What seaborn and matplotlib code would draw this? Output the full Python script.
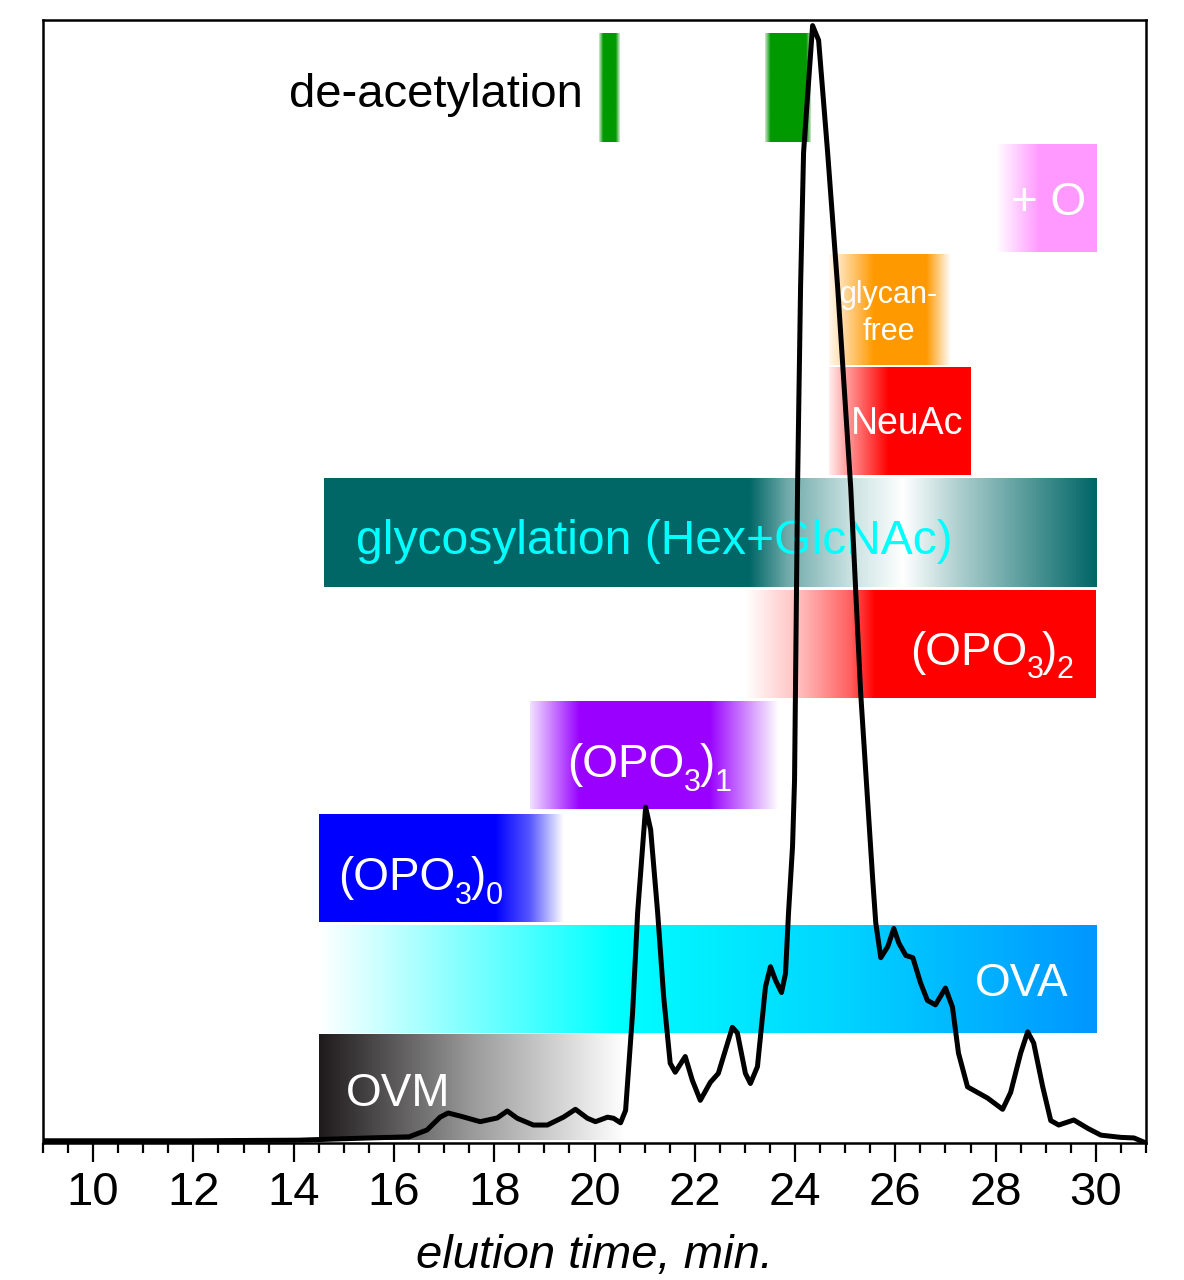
import numpy as np
import pandas as pd
import matplotlib
matplotlib.use("Agg")
import matplotlib.pyplot as plt
import matplotlib.colors as mcolors
from matplotlib.transforms import offset_copy
import seaborn as sns

# ---------------- data ----------------
time_min = [9.0, 12.0, 14.1, 14.8, 15.5, 16.3, 16.66, 16.92, 17.08, 17.32, 17.72, 18.06, 18.26,
            18.46, 18.78, 19.06, 19.38, 19.62, 19.86, 20.02, 20.26, 20.38, 20.52, 20.62, 20.76,
            20.86, 20.96, 21.02, 21.12, 21.26, 21.38, 21.51, 21.61, 21.81, 21.95, 22.11, 22.31,
            22.47, 22.75, 22.85, 23.01, 23.11, 23.25, 23.41, 23.51, 23.61, 23.73, 23.81, 23.87,
            23.95, 23.99, 24.05, 24.11, 24.17, 24.35, 24.47, 24.65, 24.85, 25.11, 25.31, 25.55,
            25.61, 25.71, 25.85, 25.97, 26.07, 26.21, 26.35, 26.50, 26.64, 26.80, 27.00, 27.14,
            27.26, 27.44, 27.64, 27.84, 28.14, 28.30, 28.50, 28.64, 28.76, 28.94, 29.10, 29.26,
            29.56, 29.84, 30.10, 30.50, 30.76, 31.0]
intensity = [0.2, 0.2, 0.25, 0.35, 0.45, 0.55, 1.16, 2.3, 2.67, 2.4, 1.9, 2.23, 2.85,
             2.2, 1.6, 1.6, 2.3, 3.0, 2.2, 1.9, 2.3, 2.2, 1.8, 2.9, 11.6,
             20.5, 26.4, 29.9, 27.9, 20.5, 13.0, 7.1, 6.3, 7.7, 5.6, 3.8, 5.4,
             6.2, 10.3, 9.8, 6.2, 5.3, 6.8, 13.9, 15.7, 14.5, 13.4, 15.1, 20.5,
             26.4, 32.3, 58.4, 76.2, 88.2, 99.5, 98.2, 88.2, 76.2, 58.4, 40.0, 23.4,
             19.6, 16.5, 17.5, 19.1, 17.8, 16.7, 16.5, 14.3, 12.7, 12.3, 13.8, 12.1,
             8.0, 5.0, 4.5, 4.0, 3.0, 4.5, 8.0, 9.9, 8.9, 5.0, 2.0, 1.6,
             2.05, 1.3, 0.7, 0.5, 0.45, 0.0]

# bands: start, end, bottom, top
band_names = ["de-acetylation a", "de-acetylation b", "+ O", "glycan-free", "NeuAc",
              "glycosylation", "(OPO3)2", "(OPO3)1", "(OPO3)0", "OVA", "OVM"]
band_start = [20.08, 23.40, 28.0, 24.67, 24.67, 14.6, 23.0, 18.72, 14.5, 14.5, 14.5]
band_end = [20.48, 24.30, 30.0, 27.1, 27.5, 30.0, 30.0, 23.67, 19.38, 30.0, 20.6]
band_bottom = [89.1, 89.1, 79.3, 69.3, 59.5, 49.5, 39.6, 29.7, 19.7, 9.8, 0.3]
band_top = [98.8, 98.8, 88.9, 79.1, 69.1, 59.2, 49.2, 39.3, 29.3, 19.4, 9.7]
band_stops = [
    [(0, "#d8ecd8"), (0.2, "#009900"), (0.8, "#009900"), (1, "#d8ecd8")],
    [(0, "#d0e8d0"), (0.12, "#009900"), (0.9, "#009900"), (1, "#cfe8cf")],
    [(0, "#ffffff"), (0.43, "#ff99ff"), (1, "#ff99ff")],
    [(0, "#fff8ee"), (0.37, "#ff9900"), (0.8, "#ff9900"), (1, "#ffffff")],
    [(0, "#ffeeee"), (0.12, "#ffa0a0"), (0.42, "#ff0000"), (1, "#ff0000")],
    [(0, "#006666"), (0.55, "#006666"), (0.6, "#70aaaa"), (0.68, "#c8e0e0"), (0.75, "#ffffff"),
     (0.82, "#b0d0d0"), (0.9, "#60a0a0"), (1, "#006666")],
    [(0, "#ffffff"), (0.15, "#ffc0c0"), (0.3, "#ff6060"), (0.37, "#ff0000"), (1, "#ff0000")],
    [(0, "#f0e0ff"), (0.2, "#9900ff"), (0.72, "#9900ff"), (1, "#ffffff")],
    [(0, "#0000ff"), (0.72, "#0000ff"), (0.86, "#5555ff"), (1, "#ffffff")],
    [(0, "#ffffff"), (0.38, "#00ffff"), (0.65, "#00d8ff"), (1, "#0096ff")],
    [(0, "#1e1a1b"), (0.5, "#9a9a9a"), (1, "#ffffff")],
]

x_ticks = [10, 12, 14, 16, 18, 20, 22, 24, 26, 28, 30]
x_label = "elution time, min."

# ---------------- style ----------------
sns.set_style("ticks")
plt.rcParams["font.family"] = ["Liberation Sans", "DejaVu Sans"]

fig = plt.figure(figsize=(11.84, 12.8), dpi=100)
ax = fig.add_axes([43 / 1184, 1 - 1143 / 1280, (1146 - 43) / 1184, (1143 - 20) / 1280])

for s, e, b, t, stops in zip(band_start, band_end, band_bottom, band_top, band_stops):
    fr = np.linspace(0, 1, 400)
    pos = [p for p, _ in stops]
    cols = np.array([mcolors.to_rgb(c) for _, c in stops])
    img = np.stack([np.interp(fr, pos, cols[:, k]) for k in range(3)], axis=-1)
    ax.imshow(img[np.newaxis, :, :], extent=[s, e, b, t], aspect="auto",
              interpolation="bilinear", zorder=1)

ax.set_xlim(9, 31)
ax.set_ylim(0, 100)

# plain labels
ax.text(19.76, 93.3, "de-acetylation", ha="right", va="center", fontsize=34, color="black", zorder=3)
ax.text(29.8, 83.7, "+ O", ha="right", va="center", fontsize=33, color="white", zorder=3)
ax.text(25.88, 73.9, "glycan-\nfree", ha="center", va="center", fontsize=22, color="white",
        linespacing=1.3, zorder=3)
ax.text(26.23, 64.0, "NeuAc", ha="center", va="center", fontsize=27, color="white", zorder=3)
ax.text(15.25, 53.6, "glycosylation (Hex+GlcNAc)", ha="left", va="center", fontsize=34.6,
        color="#00ffff", zorder=3)
ax.text(29.46, 14.2, "OVA", ha="right", va="center", fontsize=33, color="white", zorder=3)
ax.text(15.05, 4.4, "OVM", ha="left", va="center", fontsize=33, color="white", zorder=3)

# chemical labels with subscripts, composed piece by piece
renderer = fig.canvas.get_renderer()


def chem(x, y, sub, align):
    pieces = [("(OPO", 33, 0.0, 0.0), ("3", 22, -10.0, -0.3), (")", 33, 0.0, -1.2), (sub, 22, -10.0, -0.2)]
    widths = []
    for txt, size, _, _ in pieces:
        tmp = ax.text(0, 0, txt, fontsize=size)
        widths.append(tmp.get_window_extent(renderer).width * 72 / fig.dpi)
        tmp.remove()
    total = sum(widths) + sum(p[3] for p in pieces)
    dx = -total if align == "right" else 0.0
    for (txt, size, dy, kern), w in zip(pieces, widths):
        dx += kern
        tr = offset_copy(ax.transData, fig=fig, x=dx, y=dy, units="points")
        ax.text(x, y, txt, fontsize=size, color="white", ha="left", va="baseline",
                transform=tr, zorder=3)
        dx += w


chem(29.56, 42.6, "2", "right")
chem(19.46, 32.6, "1", "left")
chem(14.89, 22.5, "0", "left")

# chromatogram
df = pd.DataFrame({"t": time_min, "I": intensity})
sns.lineplot(data=df, x="t", y="I", color="black", linewidth=3.6, ax=ax, zorder=5,
             estimator=None, sort=False)

ax.set_xlim(9, 31)
ax.set_ylim(0, 100)
ax.set_xticks(x_ticks)
ax.set_xticks(np.arange(9, 31.01, 0.5), minor=True)
ax.set_yticks([])
ax.tick_params(axis="x", which="major", direction="out", length=14, width=1.6,
               labelsize=34, pad=6, color="black", labelcolor="black")
ax.tick_params(axis="x", which="minor", direction="out", length=7, width=1.6, color="black")
for sp in ax.spines.values():
    sp.set_visible(True)
    sp.set_linewidth(1.8)
    sp.set_color("black")
ax.set_xlabel(x_label, fontsize=34, style="italic", labelpad=14, color="black")
ax.set_ylabel("")

fig.savefig("out.png", dpi=100)
